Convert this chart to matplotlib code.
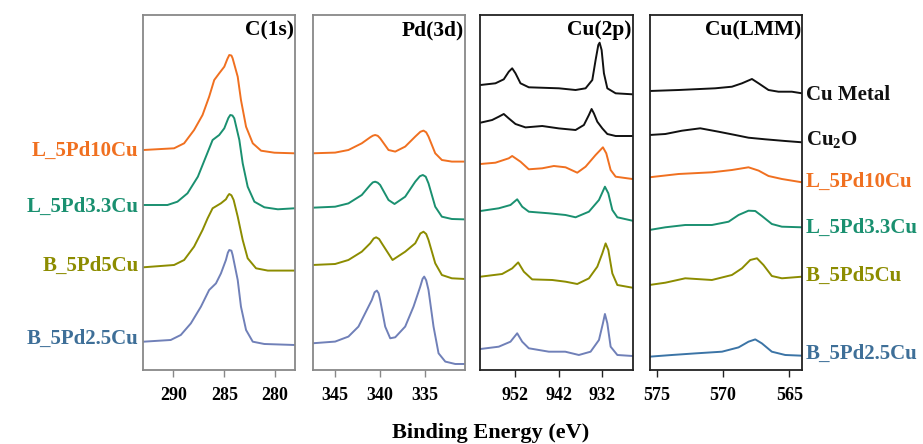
import matplotlib
matplotlib.use("Agg")
import matplotlib.pyplot as plt

plt.rcParams['font.family'] = ['Liberation Serif', 'DejaVu Serif']
plt.rcParams['font.weight'] = 'bold'
plt.rcParams['mathtext.fontset'] = 'custom'
plt.rcParams['mathtext.rm'] = 'Liberation Serif:bold'
plt.rcParams['mathtext.it'] = 'Liberation Serif:bold'
plt.rcParams['mathtext.bf'] = 'Liberation Serif:bold'

# sample names / colours
samples = ['L_5Pd10Cu', 'L_5Pd3.3Cu', 'B_5Pd5Cu', 'B_5Pd2.5Cu']
refs = ['Cu Metal', 'Cu$_2$O']
line_colors = {'L_5Pd10Cu': '#f07020', 'L_5Pd3.3Cu': '#1a9070', 'B_5Pd5Cu': '#8c8c00',
               'B_5Pd2.5Cu': '#7080b8', 'Cu Metal': '#111111', 'Cu$_2$O': '#111111'}
label_colors = {'L_5Pd10Cu': '#f07020', 'L_5Pd3.3Cu': '#1a9070', 'B_5Pd5Cu': '#8c8c00',
                'B_5Pd2.5Cu': '#3e6f98', 'Cu Metal': '#111111', 'Cu$_2$O': '#111111'}

# ---- C(1s) ----
c1s_x = {
    'L_5Pd10Cu': [292.96, 289.94, 288.95, 287.97, 287.14, 286.49, 285.99, 285.5, 285.0, 284.7, 284.51,
                  284.3, 284.18, 283.68, 283.36, 282.86, 282.2, 281.38, 280.07, 278.1],
    'L_5Pd3.3Cu': [292.96, 290.59, 289.61, 288.62, 287.6, 286.81, 286.15, 285.5, 285.0, 284.6, 284.41,
                   284.2, 284.02, 283.52, 283.19, 282.7, 282.04, 281.06, 279.73, 278.1],
    'B_5Pd5Cu': [292.96, 289.94, 288.95, 287.97, 287.14, 286.64, 286.15, 285.33, 284.84, 284.65, 284.51,
                 284.3, 284.08, 283.68, 283.19, 282.7, 281.88, 280.72, 278.1],
    'B_5Pd2.5Cu': [292.96, 290.27, 289.28, 288.29, 287.3, 286.49, 285.82, 285.33, 284.84, 284.65, 284.51,
                   284.3, 284.18, 283.68, 283.36, 282.86, 282.2, 281.06, 278.1],
}
c1s_y = {
    'L_5Pd10Cu': [0, 1.7, 6.7, 20, 35, 53.3, 70, 76.7, 83.3, 91, 95, 94.5, 91.7, 73.3, 50, 23.3, 6.7,
                  -0.7, -2.7, -3.3],
    'L_5Pd3.3Cu': [0, 0, 3.3, 11.7, 28.3, 48.3, 65, 70, 76.7, 87, 90, 89.5, 86.7, 65, 41.7, 18.3, 3.3,
                   -2.3, -4.3, -3.3],
    'B_5Pd5Cu': [0, 2.3, 7.3, 20.7, 37.3, 49, 59, 64, 68, 71.5, 73.3, 72, 67.3, 50.7, 27.3, 9, -1,
                 -3.3, -3.3],
    'B_5Pd2.5Cu': [0, 1.7, 6.7, 18.3, 35, 51.7, 58.3, 68.3, 81.7, 89, 91.7, 91, 86.7, 61.7, 35, 11.7,
                   0, -2.3, -3.3],
}
c1s_offset = {'L_5Pd10Cu': 220, 'L_5Pd3.3Cu': 165, 'B_5Pd5Cu': 102.7, 'B_5Pd2.5Cu': 28.3}

# ---- Pd(3d) ----
pd_x = {
    'L_5Pd10Cu': [347.53, 345.0, 343.52, 342.03, 341.09, 340.8, 340.54, 340.25, 339.98, 339.05, 338.3,
                  337.19, 336.07, 335.5, 335.15, 334.85, 334.59, 333.84, 333.1, 331.99, 330.49],
    'L_5Pd3.3Cu': [347.53, 345.0, 343.52, 342.03, 341.09, 340.8, 340.54, 340.25, 339.98, 339.05, 338.38,
                   337.19, 336.07, 335.55, 335.22, 334.9, 334.59, 333.84, 333.1, 331.99, 330.49],
    'B_5Pd5Cu': [347.53, 345.0, 343.52, 342.03, 341.09, 340.7, 340.43, 340.1, 339.8, 338.6, 337.19,
                 336.07, 335.5, 335.15, 334.85, 334.59, 333.84, 333.1, 331.99, 330.49],
    'B_5Pd2.5Cu': [347.53, 345.0, 343.52, 342.4, 341.47, 340.91, 340.6, 340.35, 340.15, 339.98, 339.42,
                   338.86, 338.3, 337.19, 336.26, 335.51, 335.25, 335.07, 334.85, 334.59, 334.03,
                   333.47, 332.72, 331.61, 330.49],
}
pd_y = {
    'L_5Pd10Cu': [0, 0.7, 3.3, 10, 16, 17.6, 18.3, 17.5, 15, 3.3, 1.7, 6.7, 16.7, 21.5, 22.7, 21,
                  16.7, 0, -6.7, -8.3, -8.3],
    'L_5Pd3.3Cu': [0, 1, 4.3, 12.7, 22.7, 25.3, 26, 25, 22.7, 7.7, 3.7, 11, 26, 31.5, 32.7, 31,
                   24.3, 1, -9, -11.3, -11.7],
    'B_5Pd5Cu': [0, 1, 5, 13.3, 21.7, 26.5, 27.7, 26, 21.7, 5, 13.3, 21.7, 31.5, 33.3, 31, 25, 1.7,
                 -10, -13.3, -14],
    'B_5Pd2.5Cu': [0, 1.7, 6.7, 16.7, 33.3, 43.3, 51, 52.7, 50, 43.3, 16.7, 5, 6, 16.7, 36.7, 56.7,
                   64.5, 66.7, 63, 53.3, 16.7, -10, -18.3, -20.7, -20.7],
}
pd_offset = {'L_5Pd10Cu': 216.7, 'L_5Pd3.3Cu': 162.3, 'B_5Pd5Cu': 105, 'B_5Pd2.5Cu': 26.7}

# ---- Cu(2p) ----
cu2p_x = {
    'Cu Metal': [959.98, 956.53, 954.62, 953.47, 952.69, 951.93, 950.78, 948.87, 941.97, 938.14,
                 935.84, 934.3, 933.54, 932.92, 932.62, 932.16, 931.63, 930.85, 928.94, 925.1],
    'Cu$_2$O': [959.98, 957.29, 955.77, 954.62, 953.47, 951.93, 949.63, 945.79, 941.97, 938.14,
                936.23, 935.08, 934.46, 933.93, 933.15, 932.0, 930.85, 928.94, 925.1],
    'L_5Pd10Cu': [959.98, 956.53, 953.47, 952.69, 950.78, 948.87, 945.79, 943.12, 940.44, 937.75,
                  935.84, 933.54, 931.86, 931.09, 930.09, 928.94, 925.1],
    'L_5Pd3.3Cu': [959.98, 955.77, 953.08, 951.54, 950.39, 948.87, 944.27, 940.44, 938.14, 935.08,
                   932.77, 931.4, 930.62, 929.7, 928.55, 925.1],
    'B_5Pd5Cu': [959.98, 955.0, 952.69, 951.31, 950.01, 948.1, 943.5, 940.44, 937.75, 935.08,
                 933.15, 932.0, 931.24, 930.62, 929.7, 928.55, 925.1],
    'B_5Pd2.5Cu': [959.98, 955.77, 953.08, 951.54, 950.39, 948.87, 944.27, 940.51, 937.38, 934.69,
                   932.77, 931.86, 931.4, 930.85, 930.09, 928.55, 925.1],
}
cu2p_y = {
    'Cu Metal': [0, 1.7, 5.7, 13.3, 16.7, 11.7, 1.7, -2.3, -3.3, -5, -3.3, 5, 25, 40, 42.3, 35,
                 11.7, -3.3, -8.3, -9.3],
    'Cu$_2$O': [0, 2.7, 6, 8.7, 4.3, -1.3, -4.7, -3.3, -5.7, -7.3, -2.3, 7.7, 13.7, 9.3, 1, -5.7,
                -11.3, -13.3, -13.3],
    'L_5Pd10Cu': [0, 1.3, 5.7, 8, 2.3, -5.3, -4.3, -2, -3.3, -8.7, -2.7, 9, 16.7, 10.7, -6, -12.7, -15],
    'L_5Pd3.3Cu': [0, 2.7, 6, 11.7, 4.3, -0.7, -2.3, -4, -6.3, -0.7, 11, 24.3, 17.7, 1, -6.3, -9.7],
    'B_5Pd5Cu': [0, 2.7, 8.3, 14.3, 5, -2.7, -3.3, -5, -7.3, -1.7, 10, 23.3, 33.3, 26.7, 3.3, -8.3, -11],
    'B_5Pd2.5Cu': [0, 2.3, 7.3, 15.7, 7.3, 0.7, -2.7, -2.7, -6, -2.7, 9, 25.7, 35, 25.7, 2.3, -6, -7],
}
cu2p_offset = {'Cu Metal': 285, 'Cu$_2$O': 247.3, 'L_5Pd10Cu': 206, 'L_5Pd3.3Cu': 159,
               'B_5Pd5Cu': 93.3, 'B_5Pd2.5Cu': 21}

# ---- Cu(LMM) ----
lmm_x = {
    'Cu Metal': [575.55, 573.34, 570.58, 569.32, 568.56, 567.81, 567.31, 566.56, 565.81, 564.8, 564.04],
    'Cu$_2$O': [575.55, 574.34, 573.09, 571.71, 570.33, 569.07, 568.07, 566.81, 565.3, 564.04],
    'L_5Pd10Cu': [575.55, 573.34, 570.83, 569.32, 568.07, 567.31, 566.56, 565.55, 564.04],
    'L_5Pd3.3Cu': [575.55, 574.34, 572.84, 570.83, 569.57, 568.82, 568.07, 567.56, 567.06, 566.31,
                   565.55, 564.04],
    'B_5Pd5Cu': [575.55, 574.34, 572.84, 570.83, 569.32, 568.56, 567.94, 567.43, 566.94, 566.31,
                 565.55, 564.04],
    'B_5Pd2.5Cu': [575.55, 573.84, 572.08, 570.07, 568.82, 568.07, 567.56, 567.06, 566.31, 565.3, 564.04],
}
lmm_y = {
    'Cu Metal': [0, 1, 2.7, 4.3, 7.7, 12, 7.7, 1, -0.7, -0.7, -2.3],
    'Cu$_2$O': [0, 1, 4.3, 6.7, 3.3, 0, -2.7, -4.3, -6, -7.3],
    'L_5Pd10Cu': [0, 3.3, 5, 7.3, 10, 6.7, 1.3, -1.7, -5],
    'L_5Pd3.3Cu': [0, 2.7, 5, 5, 8.3, 15, 19.3, 19, 14, 6, 3.3, 2.7],
    'B_5Pd5Cu': [0, 2.3, 6.7, 5, 10, 16.7, 25, 26.7, 20, 9, 6.7, 8.3],
    'B_5Pd2.5Cu': [0, 1.7, 3.3, 5, 9.3, 15, 17.3, 13.3, 5, 1.7, 1],
}
lmm_offset = {'Cu Metal': 279, 'Cu$_2$O': 235, 'L_5Pd10Cu': 192.7, 'L_5Pd3.3Cu': 140,
              'B_5Pd5Cu': 85, 'B_5Pd2.5Cu': 13.3}

panels = [
    ('C(1s)', c1s_x, c1s_y, c1s_offset, (293, 278), [290, 285, 280]),
    ('Pd(3d)', pd_x, pd_y, pd_offset, (347.5, 330.5), [345, 340, 335]),
    ('Cu(2p)', cu2p_x, cu2p_y, cu2p_offset, (960, 925), [952, 942, 932]),
    ('Cu(LMM)', lmm_x, lmm_y, lmm_offset, (575.5, 564), [575, 570, 565]),
]
lefts = [0.1549, 0.3388, 0.5204, 0.7042]
spine_colors = ['#888888', '#888888', '#222222', '#222222']

fig = plt.figure(figsize=(9.23, 4.44), dpi=100)
axes = []
for (title, xs, ys, offs, xlim, ticks), left, sc in zip(panels, lefts, spine_colors):
    ax = fig.add_axes([left, 0.1667, 0.1652, 0.7995])
    for name in xs:
        color = '#3b74a6' if (title == 'Cu(LMM)' and name == 'B_5Pd2.5Cu') else line_colors[name]
        ax.plot(xs[name], [v + offs[name] for v in ys[name]], color=color, lw=1.4,
                solid_joinstyle='round')
    ax.set_xlim(*xlim)
    ax.set_ylim(0, 355)
    ax.set_yticks([])
    ax.set_xticks(ticks)
    ax.set_xticklabels([str(t) for t in ticks], fontsize=13, fontweight='bold')
    ax.tick_params(axis='x', direction='out', length=5, width=1, color=sc, pad=7)
    for s in ax.spines.values():
        s.set_color(sc)
        s.set_linewidth(1.3)
    ax.text(0.99, 0.985, title, transform=ax.transAxes, ha='right', va='top',
            fontsize=15.5, fontweight='bold')
    axes.append(ax)

# left sample labels next to C(1s)
c1s_label_y = {'L_5Pd10Cu': 219, 'L_5Pd3.3Cu': 163, 'B_5Pd5Cu': 104, 'B_5Pd2.5Cu': 31}
for name in samples:
    axes[0].text(-0.03, c1s_label_y[name], name, transform=axes[0].get_yaxis_transform(),
                 ha='right', va='center', fontsize=15, fontweight='bold', color=label_colors[name])

# right labels next to Cu(LMM)
lmm_label_y = {'Cu Metal': 275, 'Cu$_2$O': 230, 'L_5Pd10Cu': 188, 'L_5Pd3.3Cu': 142,
               'B_5Pd5Cu': 94, 'B_5Pd2.5Cu': 16}
for name in refs + samples:
    axes[3].text(1.02, lmm_label_y[name], name, transform=axes[3].get_yaxis_transform(),
                 ha='left', va='center', fontsize=15, fontweight='bold', color=label_colors[name])

fig.text(0.532, 0.003, 'Binding Energy (eV)', ha='center', va='bottom', fontsize=16, fontweight='bold')

fig.savefig('out.png', dpi=100)
